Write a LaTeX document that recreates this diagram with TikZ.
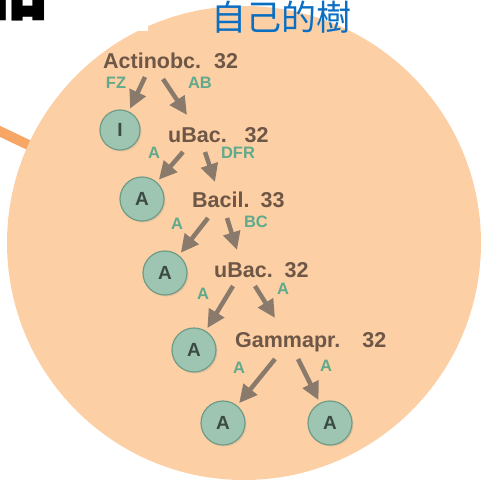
\documentclass[tikz,border=0pt]{standalone}
\usepackage{fontspec}
\setmainfont{Liberation Sans}
\newfontfamily\cjktc{Noto Sans CJK TC}
\newfontfamily\cjksc{Noto Sans CJK SC}
\usetikzlibrary{arrows.meta,shadows}
\definecolor{peach}{HTML}{FDCFA4}
\definecolor{orangeline}{HTML}{F7A665}
\definecolor{brownt}{HTML}{6E5747}
\definecolor{greent}{HTML}{5FAA8C}
\definecolor{cfill}{HTML}{9EC4B2}
\definecolor{cedge}{HTML}{6E9C86}
\definecolor{cletter}{HTML}{3C4A44}
\definecolor{arrc}{HTML}{8A7A6C}
\definecolor{titleblue}{HTML}{0A6FC2}
\tikzset{
  taxon/.style={anchor=base west, inner sep=0pt, text=brownt, font=\bfseries\fontsize{21.5}{23}\selectfont},
  elab/.style={inner sep=0pt, text=greent, font=\bfseries\fontsize{16.5}{17}\selectfont},
  leaf/.style={circle, fill=cfill, draw=cedge, line width=1.2pt, minimum size=44pt, inner sep=0pt,
    text=cletter, font=\bfseries\fontsize{19}{19}\selectfont,
    drop shadow={opacity=0.18, shadow xshift=1.5pt, shadow yshift=-1.5pt}},
  arr/.style={draw=arrc, line width=4.5pt, -{Triangle[width=17pt,length=18pt]}},
  carr/.style={arr, shorten >=3pt}
}
\begin{document}
\begin{tikzpicture}[x=1pt,y=-1pt]
\useasboundingbox (0,0) rectangle (481,482);
% background elements
\draw[orangeline, line width=10pt] (-5,129) -- (60,160);
\fill[peach] (244,243) circle[radius=237];
\fill[white] (114,-2) rectangle (148,31);
% partial character at top-left
\node[anchor=base east, inner sep=0pt, font=\cjksc\bfseries\fontsize{80}{80}\selectfont] (frag) at (50,13) {品};
% title
\node[inner sep=0pt, text=titleblue, font=\cjktc\fontsize{35}{35}\selectfont] (title) at (281,17.5) {自己的樹};
% taxa
\node[taxon] (t1) at (103,68) {Actinobc.\hspace{13pt}32};
\node[taxon] (t2) at (168,142) {uBac.\hspace{18pt}32};
\node[taxon] (t3) at (192,207) {Bacil.\hspace{11pt}33};
\node[taxon] (t4) at (214,277) {uBac.\hspace{12pt}32};
\node[taxon] (t5) at (235,347) {Gammapr.\hspace{22pt}32};
% leaves
\node[leaf, minimum size=40pt] (cI) at (120,130) {I};
\node[leaf] (cA1) at (142,199) {A};
\node[leaf] (cA2) at (165,273) {A};
\node[leaf] (cA3) at (194,350) {A};
\node[leaf] (cA4) at (223,423) {A};
\node[leaf] (cA5) at (330,423) {A};
% arrow endpoints
\coordinate (s1) at (145,77);
\coordinate (s2) at (163,79);
\coordinate (e2) at (187,115);
\coordinate (s3) at (183,152);
\coordinate (s4) at (205,152);
\coordinate (e4) at (215,182);
\coordinate (s5) at (208,218);
\coordinate (s6) at (227,218);
\coordinate (e6) at (237,250);
\coordinate (s7) at (233,286);
\coordinate (s8) at (255,286);
\coordinate (e8) at (275,318);
\coordinate (s9) at (275,359);
\coordinate (s10) at (298,359);
% arrows
\draw[carr] (s1) -- (cI);
\draw[arr] (s2) -- (e2);
\draw[carr] (s3) -- (cA1);
\draw[arr] (s4) -- (e4);
\draw[carr] (s5) -- (cA2);
\draw[arr] (s6) -- (e6);
\draw[carr] (s7) -- (cA3);
\draw[arr] (s8) -- (e8);
\draw[carr] (s9) -- (cA4);
\draw[carr] (s10) -- (cA5);
% edge labels
\node[elab] (l1) at (116,83) {FZ};
\node[elab] (l2) at (200,83) {AB};
\node[elab] (l3) at (154,153) {A};
\node[elab] (l4) at (238,153) {DFR};
\node[elab] (l5) at (177,224) {A};
\node[elab] (l6) at (256,222) {BC};
\node[elab] (l7) at (203,294) {A};
\node[elab] (l8) at (283,289) {A};
\node[elab] (l9) at (239,368) {A};
\node[elab] (l10) at (326,366) {A};
\end{tikzpicture}
\end{document}
